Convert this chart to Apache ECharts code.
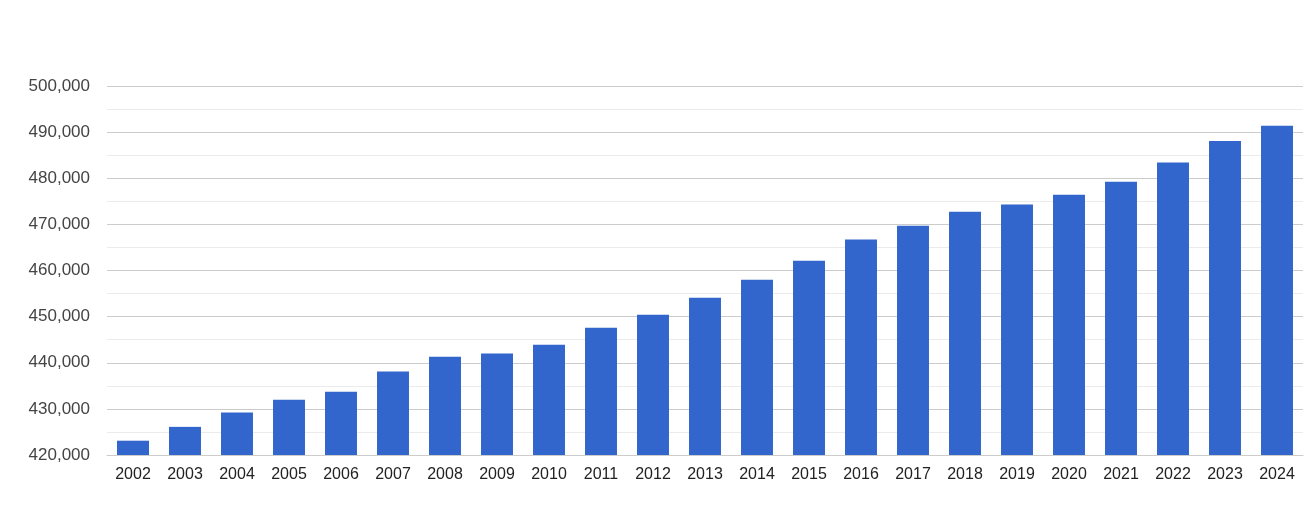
<!DOCTYPE html>
<html>
<head>
<meta charset="utf-8">
<script src="https://cdn.jsdelivr.net/npm/echarts@6/dist/echarts.min.js"></script>
<style>
html,body{margin:0;padding:0;background:#fff;}
#c{width:1305px;height:510px;}
</style>
</head>
<body>
<div id="c"></div>
<script>
const years = ['2002','2003','2004','2005','2006','2007','2008','2009','2010','2011','2012','2013','2014','2015','2016','2017','2018','2019','2020','2021','2022','2023','2024'];
const population = [423100,426100,429200,432000,433700,438100,441300,442000,443900,447600,450400,454100,458000,462100,466700,469700,472750,474300,476400,479250,483400,488100,491400];
const yMin = 420000, yMax = 500000, yStep = 10000;

const chart = echarts.init(document.getElementById('c'), null, {renderer:'canvas'});
chart.setOption({
  animation:false,
  grid:{left:107,right:2,top:86,bottom:55,containLabel:false},
  xAxis:{
    type:'category',
    data:years,
    axisLine:{show:true,lineStyle:{color:'#cccccc',width:1}},
    axisTick:{show:false},
    axisLabel:{color:'#222222',fontSize:16,fontFamily:'Liberation Sans, Arial, sans-serif',margin:12}
  },
  yAxis:{
    type:'value',
    min:yMin,max:yMax,interval:yStep,
    axisLine:{show:false},
    axisTick:{show:false},
    axisLabel:{color:'#444444',fontSize:17,fontFamily:'Liberation Sans, Arial, sans-serif',margin:17,
      formatter:v=>v.toLocaleString('en-US')},
    splitLine:{show:true,lineStyle:{color:'#cccccc',width:1}},
    minorTick:{show:false,splitNumber:2},
    minorSplitLine:{show:true,lineStyle:{color:'#ebebeb',width:1}}
  },
  series:[{
    type:'bar',
    data:population,
    barWidth:'61.5%',
    itemStyle:{color:'#3366cc'}
  }]
});
</script>
</body>
</html>
